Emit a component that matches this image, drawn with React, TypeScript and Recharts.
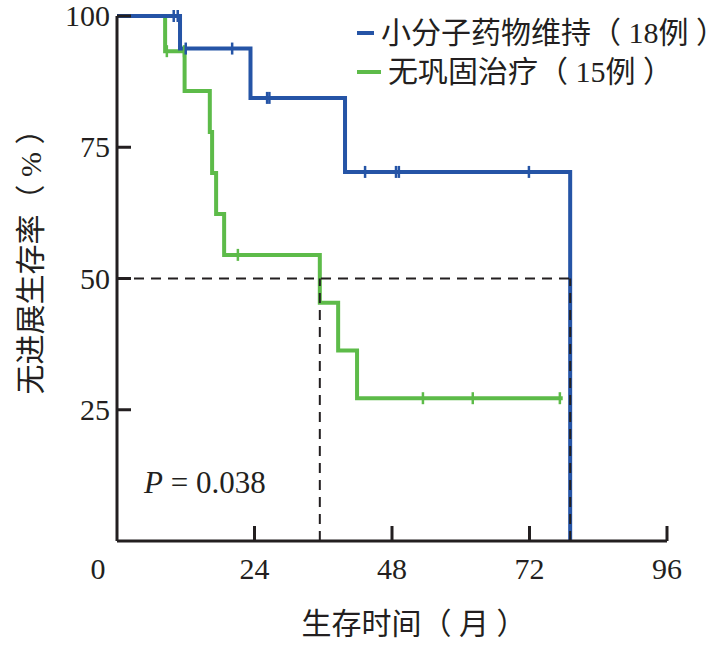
import React from 'react';
import { ComposedChart, Line, Scatter, XAxis, YAxis, ReferenceLine, Legend, Label } from 'recharts';

// Kaplan-Meier steps: month of each event and survival (%) after it
const maintenanceMonths = [0, 11.0, 23.3, 39.8, 79.1];
const maintenanceSurvival = [100, 93.8, 84.4, 70.3, 0];
const maintenanceCensored = [9.9, 10.6, 12.0, 20.1, 26.2, 26.6, 43.3, 48.7, 49.2, 71.9];

const noConsolidationMonths = [0, 8.4, 11.8, 16.2, 16.6, 17.3, 18.7, 35.4, 38.6, 41.9, 77.8];
const noConsolidationSurvival = [100, 93.3, 85.7, 77.9, 70.1, 62.3, 54.5, 45.4, 36.3, 27.2, 27.2];
const noConsolidationCensored = [8.7, 11.7, 21.1, 53.4, 62.1, 77.3];

const medianMonths = [79.1, 35.4];
const seriesNames = ['小分子药物维持（ 18例 ）', '无巩固治疗（ 15例 ）'];
const seriesColors = ['#2554a6', '#5dbb49'];

const xTicks = [0, 24, 48, 72, 96];
const yTicks = [25, 50, 75, 100];

const FONT = '"Liberation Serif", "Noto Sans CJK SC", serif';
const INK = '#231f20';

const toSteps = (months: number[], surv: number[]) => months.map((t, i) => ({ t, s: surv[i] }));

// a censored case sits on the step that is current at its month
const toCensorMarks = (censored: number[], months: number[], surv: number[]) =>
  censored.map((t) => {
    let s = surv[0];
    months.forEach((m, i) => {
      if (m <= t) s = surv[i];
    });
    return { t, s };
  });

const maintenanceSteps = toSteps(maintenanceMonths, maintenanceSurvival);
const noConsolidationSteps = toSteps(noConsolidationMonths, noConsolidationSurvival);
const maintenanceMarks = toCensorMarks(maintenanceCensored, maintenanceMonths, maintenanceSurvival);
const noConsolidationMarks = toCensorMarks(noConsolidationCensored, noConsolidationMonths, noConsolidationSurvival);

const censorShape = (color: string) => (props: any) => {
  const { cx, cy } = props;
  return <line x1={cx} x2={cx} y1={cy - 6} y2={cy + 6} stroke={color} strokeWidth={2.5} />;
};

const YTick = (props: any) => {
  const { x, y, payload } = props;
  return (
    <g>
      <line x1={x} x2={x + 14} y1={y} y2={y} stroke={INK} strokeWidth={3} />
      <text x={x - 7} y={y + 10} textAnchor="end" fontSize={30} fontFamily={FONT} fill={INK}>
        {payload.value}
      </text>
    </g>
  );
};

const XTick = (props: any) => {
  const { x, y, payload } = props;
  const isOrigin = payload.value === 0;
  return (
    <g>
      {!isOrigin && <line x1={x} x2={x} y1={y} y2={y - 15} stroke={INK} strokeWidth={3} />}
      <text x={isOrigin ? x - 19 : x} y={y + 38} textAnchor="middle" fontSize={30} fontFamily={FONT} fill={INK}>
        {payload.value}
      </text>
    </g>
  );
};

const YTitle = (props: any) => {
  const { viewBox } = props;
  const cx = viewBox.x + 30;
  const cy = viewBox.y + viewBox.height / 2 - 24;
  return (
    <text
      x={cx}
      y={cy}
      transform={`rotate(-90, ${cx}, ${cy})`}
      textAnchor="middle"
      dominantBaseline="central"
      fontSize={30}
      fontFamily={FONT}
      fill={INK}
    >
      无进展生存率（ % ）
    </text>
  );
};

const XTitle = (props: any) => {
  const { viewBox } = props;
  return (
    <text
      x={viewBox.x + viewBox.width / 2 + 22}
      y={viewBox.y + 93}
      textAnchor="middle"
      fontSize={30}
      fontFamily={FONT}
      fill={INK}
    >
      生存时间（ 月 ）
    </text>
  );
};

const LegendBox = () => (
  <div style={{ fontFamily: FONT, fontSize: 30, color: INK, lineHeight: '39px' }}>
    {seriesNames.map((name, i) => (
      <div key={name} style={{ display: 'flex', alignItems: 'center', whiteSpace: 'pre' }}>
        <span style={{ display: 'inline-block', width: 24, height: 4, background: seriesColors[i], marginRight: 7 }} />
        <span>{name}</span>
      </div>
    ))}
  </div>
);

export default function App() {
  return (
    <div style={{ position: 'absolute', left: 0, top: 0, background: '#fff' }}>
      <ComposedChart width={726} height={645} margin={{ top: 16, right: 59, bottom: 0, left: 0 }}>
        <XAxis
          dataKey="t"
          type="number"
          domain={[0, 96]}
          ticks={xTicks}
          interval={0}
          height={104}
          tickSize={0}
          tickMargin={0}
          tick={<XTick />}
          axisLine={{ stroke: INK, strokeWidth: 3 }}
          tickLine={false}
        >
          <Label content={<XTitle />} />
        </XAxis>
        <YAxis
          type="number"
          domain={[0, 100]}
          ticks={yTicks}
          interval={0}
          width={117}
          tickSize={0}
          tickMargin={0}
          tick={<YTick />}
          axisLine={{ stroke: INK, strokeWidth: 3 }}
          tickLine={false}
        >
          <Label content={<YTitle />} />
        </YAxis>
        <Legend
          layout="vertical"
          align="center"
          verticalAlign="middle"
          wrapperStyle={{ left: 357, top: 13, width: 369 }}
          content={<LegendBox />}
        />
        <Line
          data={noConsolidationSteps}
          dataKey="s"
          type="stepAfter"
          stroke={seriesColors[1]}
          strokeWidth={4}
          strokeLinejoin="miter"
          dot={false}
          isAnimationActive={false}
        />
        <Line
          data={maintenanceSteps}
          dataKey="s"
          type="stepAfter"
          stroke={seriesColors[0]}
          strokeWidth={4}
          strokeLinejoin="miter"
          dot={false}
          isAnimationActive={false}
        />
        <Scatter data={noConsolidationMarks} dataKey="s" shape={censorShape(seriesColors[1])} isAnimationActive={false} />
        <Scatter data={maintenanceMarks} dataKey="s" shape={censorShape(seriesColors[0])} isAnimationActive={false} />
        {/* median survival guides */}
        <ReferenceLine
          segment={[{ x: 0, y: 50 }, { x: medianMonths[0], y: 50 }]}
          stroke={INK}
          strokeWidth={2}
          strokeDasharray="10 7"
        />
        {medianMonths.map((m) => (
          <ReferenceLine
            key={m}
            segment={[{ x: m, y: 0 }, { x: m, y: 50 }]}
            stroke={INK}
            strokeWidth={2}
            strokeDasharray="10 7"
          />
        ))}
        <text x={144} y={493} fontSize={31} fontFamily={FONT} fill={INK}>
          <tspan fontStyle="italic">P</tspan>
          <tspan> = 0.038</tspan>
        </text>
      </ComposedChart>
    </div>
  );
}
